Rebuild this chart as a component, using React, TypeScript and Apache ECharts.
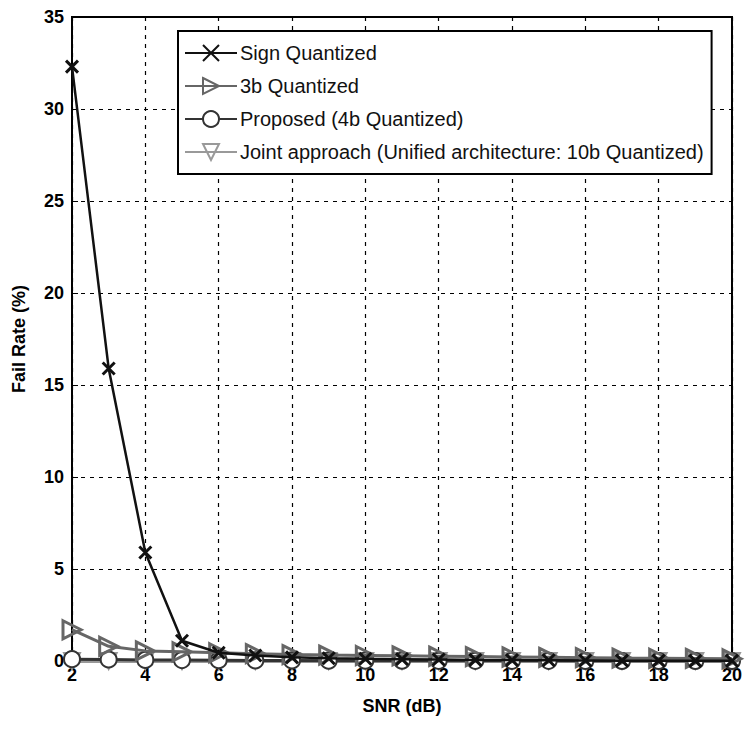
import React, { useEffect, useRef } from "react";
import * as echarts from "echarts";

const snr = [2, 3, 4, 5, 6, 7, 8, 9, 10, 11, 12, 13, 14, 15, 16, 17, 18, 19, 20];
const signQuantized = [32.3, 15.9, 5.9, 1.1, 0.45, 0.3, 0.2, 0.15, 0.12, 0.1, 0.08, 0.06, 0.05, 0.04, 0.03, 0.02, 0.02, 0.01, 0.01];
const quant3b = [1.7, 0.8, 0.55, 0.5, 0.45, 0.4, 0.35, 0.32, 0.3, 0.28, 0.26, 0.24, 0.22, 0.2, 0.18, 0.16, 0.15, 0.14, 0.12];
const proposed4b = [0.1, 0.08, 0.06, 0.05, 0.04, 0.03, 0.03, 0.02, 0.02, 0.02, 0.01, 0.01, 0.01, 0.01, 0.0, 0.0, 0.0, 0.0, 0.0];
const joint10b = [0, 0, 0, 0, 0, 0, 0, 0, 0, 0, 0, 0, 0, 0, 0, 0, 0, 0, 0];
const seriesNames = [
  "Sign Quantized",
  "3b Quantized",
  "Proposed (4b Quantized)",
  "Joint approach (Unified architecture: 10b Quantized)",
];

const X_PATH = "path://M0,0 L10,10 M10,0 L0,10";
const TRI_RIGHT = "path://M0,0 L10,5 L0,10 Z";
const TRI_DOWN = "path://M0,0 L10,0 L5,10 Z";

export default function App() {
  const ref = useRef<HTMLDivElement>(null);
  useEffect(() => {
    if (!ref.current) return;
    const chart = echarts.init(ref.current, undefined, { renderer: "svg" });
    const pair = (ys: number[]) => snr.map((x, i) => [x, ys[i]]);
    const tickFont = {
      fontFamily: "Liberation Sans",
      fontWeight: "bold" as const,
      fontSize: 18,
      color: "#000",
    };
    chart.setOption({
      animation: false,
      backgroundColor: "#fff",
      grid: {
        left: 72,
        top: 17,
        right: 12,
        bottom: 70,
        show: true,
        borderColor: "#000",
        borderWidth: 2,
      },
      legend: {
        orient: "vertical",
        left: 178,
        top: 31,
        padding: [12, 8, 12, 6],
        itemGap: 13,
        itemWidth: 52,
        itemHeight: 20,
        backgroundColor: "#fff",
        borderColor: "#000",
        borderWidth: 2,
        borderRadius: 0,
        textStyle: { fontFamily: "Liberation Sans", fontSize: 20, color: "#111", padding: [0, 0, 0, -2] },
        data: seriesNames,
      },
      xAxis: {
        type: "value",
        min: 2,
        max: 20,
        interval: 2,
        name: "SNR (dB)",
        nameLocation: "middle",
        nameGap: 36,
        nameTextStyle: { ...tickFont, fontSize: 18 },
        axisLine: { lineStyle: { color: "#000", width: 2 } },
        axisTick: { inside: true, length: 6, lineStyle: { color: "#000" } },
        axisLabel: { ...tickFont, margin: 5 },
        splitLine: { show: true, lineStyle: { color: "#000", type: [4, 5], width: 1.2 } },
      },
      yAxis: {
        type: "value",
        min: 0,
        max: 35,
        interval: 5,
        name: "Fail Rate (%)",
        nameLocation: "middle",
        nameGap: 44,
        nameTextStyle: { ...tickFont, fontSize: 18 },
        axisLine: { lineStyle: { color: "#000", width: 2 } },
        axisTick: { inside: true, length: 6, lineStyle: { color: "#000" } },
        axisLabel: { ...tickFont, margin: 8 },
        splitLine: { show: true, lineStyle: { color: "#000", type: [4, 5], width: 1.2 } },
      },
      series: [
        {
          name: seriesNames[3],
          type: "line",
          data: pair(joint10b),
          symbol: TRI_DOWN,
          symbolSize: 16,
          z: 2,
          lineStyle: { color: "#999", width: 4 },
          itemStyle: { color: "transparent", borderColor: "#999", borderWidth: 2 },
        },
        {
          name: seriesNames[2],
          type: "line",
          data: pair(proposed4b),
          symbol: "emptyCircle",
          symbolSize: 16,
          z: 3,
          lineStyle: { color: "#333", width: 3 },
          itemStyle: { color: "#333", borderColor: "#333", borderWidth: 3 },
        },
        {
          name: seriesNames[1],
          type: "line",
          data: pair(quant3b),
          symbol: TRI_RIGHT,
          symbolSize: 18,
          z: 4,
          lineStyle: { color: "#666", width: 3 },
          itemStyle: { color: "transparent", borderColor: "#666", borderWidth: 3 },
        },
        {
          name: seriesNames[0],
          type: "line",
          data: pair(signQuantized),
          symbol: X_PATH,
          symbolSize: 12,
          z: 5,
          lineStyle: { color: "#111", width: 2.5 },
          itemStyle: { color: "transparent", borderColor: "#111", borderWidth: 3 },
        },
      ],
    });
    return () => chart.dispose();
  }, []);
  return <div ref={ref} style={{ width: 745, height: 731, position: "absolute", left: 0, top: 0 }} />;
}
